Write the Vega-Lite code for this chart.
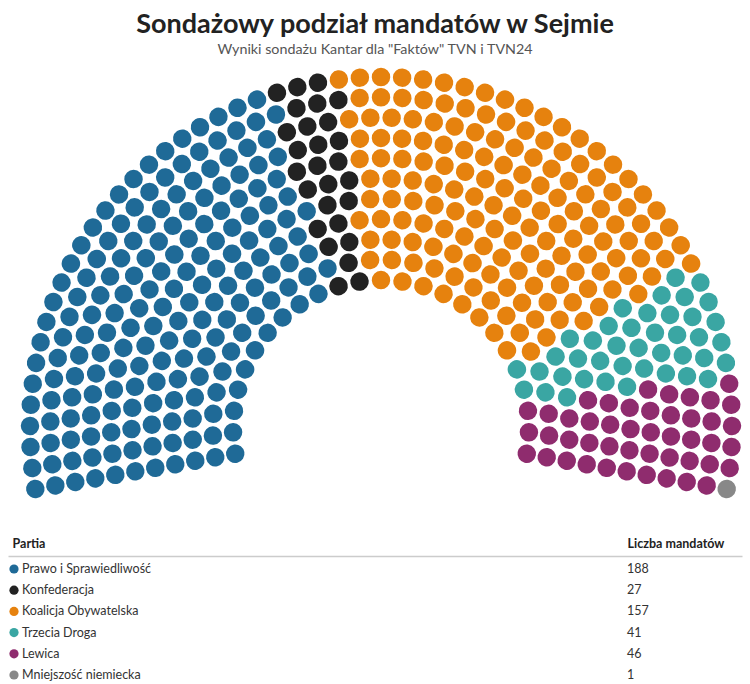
{
"$schema": "https://vega.github.io/schema/vega-lite/v6.json",
"padding": {"left": 0, "right": 0, "top": 10, "bottom": 0},
"background": "white",
"title": {"text": "Sondażowy podział mandatów w Sejmie", "subtitle": "Wyniki sondażu Kantar dla \"Faktów\" TVN i TVN24", "anchor": "middle", "font": "Lato", "fontSize": 27, "fontWeight": "bold", "color": "#222222", "subtitleFont": "Lato", "subtitleFontSize": 14.3, "subtitleColor": "#555555", "subtitlePadding": 4, "offset": 5},
"config": {"view": {"stroke": null}, "font": "Lato"},
"spacing": 34,
"center": true,
"datasets": {
"parties": [
{"p":"PiS","name":"Prawo i Sprawiedliwość","n":188},
{"p":"Konf","name":"Konfederacja","n":27},
{"p":"KO","name":"Koalicja Obywatelska","n":157},
{"p":"TD","name":"Trzecia Droga","n":41},
{"p":"Lewica","name":"Lewica","n":46},
{"p":"MN","name":"Mniejszość niemiecka","n":1}
],
"seats": [
{"p":"PiS","r":0,"i":0},{"p":"PiS","r":0,"i":1},{"p":"PiS","r":0,"i":2},{"p":"PiS","r":0,"i":3},{"p":"PiS","r":0,"i":4},{"p":"PiS","r":0,"i":5},{"p":"PiS","r":0,"i":6},{"p":"PiS","r":0,"i":7},{"p":"PiS","r":0,"i":8},{"p":"PiS","r":0,"i":9},
{"p":"Konf","r":0,"i":10},{"p":"Konf","r":0,"i":11},
{"p":"KO","r":0,"i":12},{"p":"KO","r":0,"i":13},{"p":"KO","r":0,"i":14},{"p":"KO","r":0,"i":15},{"p":"KO","r":0,"i":16},{"p":"KO","r":0,"i":17},{"p":"KO","r":0,"i":18},{"p":"KO","r":0,"i":19},
{"p":"TD","r":0,"i":20},{"p":"TD","r":0,"i":21},
{"p":"Lewica","r":0,"i":22},{"p":"Lewica","r":0,"i":23},{"p":"Lewica","r":0,"i":24},

{"p":"PiS","r":1,"i":0},{"p":"PiS","r":1,"i":1},{"p":"PiS","r":1,"i":2},{"p":"PiS","r":1,"i":3},{"p":"PiS","r":1,"i":4},{"p":"PiS","r":1,"i":5},{"p":"PiS","r":1,"i":6},{"p":"PiS","r":1,"i":7},{"p":"PiS","r":1,"i":8},{"p":"PiS","r":1,"i":9},{"p":"PiS","r":1,"i":10},{"p":"PiS","r":1,"i":11},
{"p":"Konf","r":1,"i":12},
{"p":"KO","r":1,"i":13},{"p":"KO","r":1,"i":14},{"p":"KO","r":1,"i":15},{"p":"KO","r":1,"i":16},{"p":"KO","r":1,"i":17},{"p":"KO","r":1,"i":18},{"p":"KO","r":1,"i":19},{"p":"KO","r":1,"i":20},{"p":"KO","r":1,"i":21},{"p":"KO","r":1,"i":22},
{"p":"TD","r":1,"i":23},{"p":"TD","r":1,"i":24},
{"p":"Lewica","r":1,"i":25},{"p":"Lewica","r":1,"i":26},{"p":"Lewica","r":1,"i":27},

{"p":"PiS","r":2,"i":0},{"p":"PiS","r":2,"i":1},{"p":"PiS","r":2,"i":2},{"p":"PiS","r":2,"i":3},{"p":"PiS","r":2,"i":4},{"p":"PiS","r":2,"i":5},{"p":"PiS","r":2,"i":6},{"p":"PiS","r":2,"i":7},{"p":"PiS","r":2,"i":8},{"p":"PiS","r":2,"i":9},{"p":"PiS","r":2,"i":10},{"p":"PiS","r":2,"i":11},{"p":"PiS","r":2,"i":12},
{"p":"Konf","r":2,"i":13},{"p":"Konf","r":2,"i":14},
{"p":"KO","r":2,"i":15},{"p":"KO","r":2,"i":16},{"p":"KO","r":2,"i":17},{"p":"KO","r":2,"i":18},{"p":"KO","r":2,"i":19},{"p":"KO","r":2,"i":20},{"p":"KO","r":2,"i":21},{"p":"KO","r":2,"i":22},{"p":"KO","r":2,"i":23},{"p":"KO","r":2,"i":24},{"p":"KO","r":2,"i":25},
{"p":"TD","r":2,"i":26},{"p":"TD","r":2,"i":27},{"p":"TD","r":2,"i":28},
{"p":"Lewica","r":2,"i":29},{"p":"Lewica","r":2,"i":30},{"p":"Lewica","r":2,"i":31},

{"p":"PiS","r":3,"i":0},{"p":"PiS","r":3,"i":1},{"p":"PiS","r":3,"i":2},{"p":"PiS","r":3,"i":3},{"p":"PiS","r":3,"i":4},{"p":"PiS","r":3,"i":5},{"p":"PiS","r":3,"i":6},{"p":"PiS","r":3,"i":7},{"p":"PiS","r":3,"i":8},{"p":"PiS","r":3,"i":9},{"p":"PiS","r":3,"i":10},{"p":"PiS","r":3,"i":11},{"p":"PiS","r":3,"i":12},{"p":"PiS","r":3,"i":13},
{"p":"Konf","r":3,"i":14},{"p":"Konf","r":3,"i":15},
{"p":"KO","r":3,"i":16},{"p":"KO","r":3,"i":17},{"p":"KO","r":3,"i":18},{"p":"KO","r":3,"i":19},{"p":"KO","r":3,"i":20},{"p":"KO","r":3,"i":21},{"p":"KO","r":3,"i":22},{"p":"KO","r":3,"i":23},{"p":"KO","r":3,"i":24},{"p":"KO","r":3,"i":25},{"p":"KO","r":3,"i":26},{"p":"KO","r":3,"i":27},
{"p":"TD","r":3,"i":28},{"p":"TD","r":3,"i":29},{"p":"TD","r":3,"i":30},
{"p":"Lewica","r":3,"i":31},{"p":"Lewica","r":3,"i":32},{"p":"Lewica","r":3,"i":33},{"p":"Lewica","r":3,"i":34},

{"p":"PiS","r":4,"i":0},{"p":"PiS","r":4,"i":1},{"p":"PiS","r":4,"i":2},{"p":"PiS","r":4,"i":3},{"p":"PiS","r":4,"i":4},{"p":"PiS","r":4,"i":5},{"p":"PiS","r":4,"i":6},{"p":"PiS","r":4,"i":7},{"p":"PiS","r":4,"i":8},{"p":"PiS","r":4,"i":9},{"p":"PiS","r":4,"i":10},{"p":"PiS","r":4,"i":11},{"p":"PiS","r":4,"i":12},{"p":"PiS","r":4,"i":13},{"p":"PiS","r":4,"i":14},{"p":"PiS","r":4,"i":15},
{"p":"Konf","r":4,"i":16},{"p":"Konf","r":4,"i":17},
{"p":"KO","r":4,"i":18},{"p":"KO","r":4,"i":19},{"p":"KO","r":4,"i":20},{"p":"KO","r":4,"i":21},{"p":"KO","r":4,"i":22},{"p":"KO","r":4,"i":23},{"p":"KO","r":4,"i":24},{"p":"KO","r":4,"i":25},{"p":"KO","r":4,"i":26},{"p":"KO","r":4,"i":27},{"p":"KO","r":4,"i":28},{"p":"KO","r":4,"i":29},{"p":"KO","r":4,"i":30},
{"p":"TD","r":4,"i":31},{"p":"TD","r":4,"i":32},{"p":"TD","r":4,"i":33},
{"p":"Lewica","r":4,"i":34},{"p":"Lewica","r":4,"i":35},{"p":"Lewica","r":4,"i":36},{"p":"Lewica","r":4,"i":37},

{"p":"PiS","r":5,"i":0},{"p":"PiS","r":5,"i":1},{"p":"PiS","r":5,"i":2},{"p":"PiS","r":5,"i":3},{"p":"PiS","r":5,"i":4},{"p":"PiS","r":5,"i":5},{"p":"PiS","r":5,"i":6},{"p":"PiS","r":5,"i":7},{"p":"PiS","r":5,"i":8},{"p":"PiS","r":5,"i":9},{"p":"PiS","r":5,"i":10},{"p":"PiS","r":5,"i":11},{"p":"PiS","r":5,"i":12},{"p":"PiS","r":5,"i":13},{"p":"PiS","r":5,"i":14},{"p":"PiS","r":5,"i":15},{"p":"PiS","r":5,"i":16},
{"p":"Konf","r":5,"i":17},{"p":"Konf","r":5,"i":18},{"p":"Konf","r":5,"i":19},
{"p":"KO","r":5,"i":20},{"p":"KO","r":5,"i":21},{"p":"KO","r":5,"i":22},{"p":"KO","r":5,"i":23},{"p":"KO","r":5,"i":24},{"p":"KO","r":5,"i":25},{"p":"KO","r":5,"i":26},{"p":"KO","r":5,"i":27},{"p":"KO","r":5,"i":28},{"p":"KO","r":5,"i":29},{"p":"KO","r":5,"i":30},{"p":"KO","r":5,"i":31},{"p":"KO","r":5,"i":32},{"p":"KO","r":5,"i":33},
{"p":"TD","r":5,"i":34},{"p":"TD","r":5,"i":35},{"p":"TD","r":5,"i":36},{"p":"TD","r":5,"i":37},
{"p":"Lewica","r":5,"i":38},{"p":"Lewica","r":5,"i":39},{"p":"Lewica","r":5,"i":40},{"p":"Lewica","r":5,"i":41},

{"p":"PiS","r":6,"i":0},{"p":"PiS","r":6,"i":1},{"p":"PiS","r":6,"i":2},{"p":"PiS","r":6,"i":3},{"p":"PiS","r":6,"i":4},{"p":"PiS","r":6,"i":5},{"p":"PiS","r":6,"i":6},{"p":"PiS","r":6,"i":7},{"p":"PiS","r":6,"i":8},{"p":"PiS","r":6,"i":9},{"p":"PiS","r":6,"i":10},{"p":"PiS","r":6,"i":11},{"p":"PiS","r":6,"i":12},{"p":"PiS","r":6,"i":13},{"p":"PiS","r":6,"i":14},{"p":"PiS","r":6,"i":15},{"p":"PiS","r":6,"i":16},{"p":"PiS","r":6,"i":17},
{"p":"Konf","r":6,"i":18},{"p":"Konf","r":6,"i":19},{"p":"Konf","r":6,"i":20},
{"p":"KO","r":6,"i":21},{"p":"KO","r":6,"i":22},{"p":"KO","r":6,"i":23},{"p":"KO","r":6,"i":24},{"p":"KO","r":6,"i":25},{"p":"KO","r":6,"i":26},{"p":"KO","r":6,"i":27},{"p":"KO","r":6,"i":28},{"p":"KO","r":6,"i":29},{"p":"KO","r":6,"i":30},{"p":"KO","r":6,"i":31},{"p":"KO","r":6,"i":32},{"p":"KO","r":6,"i":33},{"p":"KO","r":6,"i":34},{"p":"KO","r":6,"i":35},
{"p":"TD","r":6,"i":36},{"p":"TD","r":6,"i":37},{"p":"TD","r":6,"i":38},{"p":"TD","r":6,"i":39},
{"p":"Lewica","r":6,"i":40},{"p":"Lewica","r":6,"i":41},{"p":"Lewica","r":6,"i":42},{"p":"Lewica","r":6,"i":43},{"p":"Lewica","r":6,"i":44},

{"p":"PiS","r":7,"i":0},{"p":"PiS","r":7,"i":1},{"p":"PiS","r":7,"i":2},{"p":"PiS","r":7,"i":3},{"p":"PiS","r":7,"i":4},{"p":"PiS","r":7,"i":5},{"p":"PiS","r":7,"i":6},{"p":"PiS","r":7,"i":7},{"p":"PiS","r":7,"i":8},{"p":"PiS","r":7,"i":9},{"p":"PiS","r":7,"i":10},{"p":"PiS","r":7,"i":11},{"p":"PiS","r":7,"i":12},{"p":"PiS","r":7,"i":13},{"p":"PiS","r":7,"i":14},{"p":"PiS","r":7,"i":15},{"p":"PiS","r":7,"i":16},{"p":"PiS","r":7,"i":17},{"p":"PiS","r":7,"i":18},{"p":"PiS","r":7,"i":19},
{"p":"Konf","r":7,"i":20},{"p":"Konf","r":7,"i":21},{"p":"Konf","r":7,"i":22},
{"p":"KO","r":7,"i":23},{"p":"KO","r":7,"i":24},{"p":"KO","r":7,"i":25},{"p":"KO","r":7,"i":26},{"p":"KO","r":7,"i":27},{"p":"KO","r":7,"i":28},{"p":"KO","r":7,"i":29},{"p":"KO","r":7,"i":30},{"p":"KO","r":7,"i":31},{"p":"KO","r":7,"i":32},{"p":"KO","r":7,"i":33},{"p":"KO","r":7,"i":34},{"p":"KO","r":7,"i":35},{"p":"KO","r":7,"i":36},{"p":"KO","r":7,"i":37},{"p":"KO","r":7,"i":38},{"p":"KO","r":7,"i":39},
{"p":"TD","r":7,"i":40},{"p":"TD","r":7,"i":41},{"p":"TD","r":7,"i":42},{"p":"TD","r":7,"i":43},
{"p":"Lewica","r":7,"i":44},{"p":"Lewica","r":7,"i":45},{"p":"Lewica","r":7,"i":46},{"p":"Lewica","r":7,"i":47},{"p":"Lewica","r":7,"i":48},

{"p":"PiS","r":8,"i":0},{"p":"PiS","r":8,"i":1},{"p":"PiS","r":8,"i":2},{"p":"PiS","r":8,"i":3},{"p":"PiS","r":8,"i":4},{"p":"PiS","r":8,"i":5},{"p":"PiS","r":8,"i":6},{"p":"PiS","r":8,"i":7},{"p":"PiS","r":8,"i":8},{"p":"PiS","r":8,"i":9},{"p":"PiS","r":8,"i":10},{"p":"PiS","r":8,"i":11},{"p":"PiS","r":8,"i":12},{"p":"PiS","r":8,"i":13},{"p":"PiS","r":8,"i":14},{"p":"PiS","r":8,"i":15},{"p":"PiS","r":8,"i":16},{"p":"PiS","r":8,"i":17},{"p":"PiS","r":8,"i":18},{"p":"PiS","r":8,"i":19},{"p":"PiS","r":8,"i":20},
{"p":"Konf","r":8,"i":21},{"p":"Konf","r":8,"i":22},{"p":"Konf","r":8,"i":23},
{"p":"KO","r":8,"i":24},{"p":"KO","r":8,"i":25},{"p":"KO","r":8,"i":26},{"p":"KO","r":8,"i":27},{"p":"KO","r":8,"i":28},{"p":"KO","r":8,"i":29},{"p":"KO","r":8,"i":30},{"p":"KO","r":8,"i":31},{"p":"KO","r":8,"i":32},{"p":"KO","r":8,"i":33},{"p":"KO","r":8,"i":34},{"p":"KO","r":8,"i":35},{"p":"KO","r":8,"i":36},{"p":"KO","r":8,"i":37},{"p":"KO","r":8,"i":38},{"p":"KO","r":8,"i":39},{"p":"KO","r":8,"i":40},{"p":"KO","r":8,"i":41},
{"p":"TD","r":8,"i":42},{"p":"TD","r":8,"i":43},{"p":"TD","r":8,"i":44},{"p":"TD","r":8,"i":45},{"p":"TD","r":8,"i":46},
{"p":"Lewica","r":8,"i":47},{"p":"Lewica","r":8,"i":48},{"p":"Lewica","r":8,"i":49},{"p":"Lewica","r":8,"i":50},{"p":"Lewica","r":8,"i":51},

{"p":"PiS","r":9,"i":0},{"p":"PiS","r":9,"i":1},{"p":"PiS","r":9,"i":2},{"p":"PiS","r":9,"i":3},{"p":"PiS","r":9,"i":4},{"p":"PiS","r":9,"i":5},{"p":"PiS","r":9,"i":6},{"p":"PiS","r":9,"i":7},{"p":"PiS","r":9,"i":8},{"p":"PiS","r":9,"i":9},{"p":"PiS","r":9,"i":10},{"p":"PiS","r":9,"i":11},{"p":"PiS","r":9,"i":12},{"p":"PiS","r":9,"i":13},{"p":"PiS","r":9,"i":14},{"p":"PiS","r":9,"i":15},{"p":"PiS","r":9,"i":16},{"p":"PiS","r":9,"i":17},{"p":"PiS","r":9,"i":18},{"p":"PiS","r":9,"i":19},{"p":"PiS","r":9,"i":20},{"p":"PiS","r":9,"i":21},{"p":"PiS","r":9,"i":22},
{"p":"Konf","r":9,"i":23},{"p":"Konf","r":9,"i":24},{"p":"Konf","r":9,"i":25},
{"p":"KO","r":9,"i":26},{"p":"KO","r":9,"i":27},{"p":"KO","r":9,"i":28},{"p":"KO","r":9,"i":29},{"p":"KO","r":9,"i":30},{"p":"KO","r":9,"i":31},{"p":"KO","r":9,"i":32},{"p":"KO","r":9,"i":33},{"p":"KO","r":9,"i":34},{"p":"KO","r":9,"i":35},{"p":"KO","r":9,"i":36},{"p":"KO","r":9,"i":37},{"p":"KO","r":9,"i":38},{"p":"KO","r":9,"i":39},{"p":"KO","r":9,"i":40},{"p":"KO","r":9,"i":41},{"p":"KO","r":9,"i":42},{"p":"KO","r":9,"i":43},
{"p":"TD","r":9,"i":44},{"p":"TD","r":9,"i":45},{"p":"TD","r":9,"i":46},{"p":"TD","r":9,"i":47},{"p":"TD","r":9,"i":48},{"p":"TD","r":9,"i":49},
{"p":"Lewica","r":9,"i":50},{"p":"Lewica","r":9,"i":51},{"p":"Lewica","r":9,"i":52},{"p":"Lewica","r":9,"i":53},{"p":"Lewica","r":9,"i":54},

{"p":"PiS","r":10,"i":0},{"p":"PiS","r":10,"i":1},{"p":"PiS","r":10,"i":2},{"p":"PiS","r":10,"i":3},{"p":"PiS","r":10,"i":4},{"p":"PiS","r":10,"i":5},{"p":"PiS","r":10,"i":6},{"p":"PiS","r":10,"i":7},{"p":"PiS","r":10,"i":8},{"p":"PiS","r":10,"i":9},{"p":"PiS","r":10,"i":10},{"p":"PiS","r":10,"i":11},{"p":"PiS","r":10,"i":12},{"p":"PiS","r":10,"i":13},{"p":"PiS","r":10,"i":14},{"p":"PiS","r":10,"i":15},{"p":"PiS","r":10,"i":16},{"p":"PiS","r":10,"i":17},{"p":"PiS","r":10,"i":18},{"p":"PiS","r":10,"i":19},{"p":"PiS","r":10,"i":20},{"p":"PiS","r":10,"i":21},{"p":"PiS","r":10,"i":22},{"p":"PiS","r":10,"i":23},
{"p":"Konf","r":10,"i":24},{"p":"Konf","r":10,"i":25},{"p":"Konf","r":10,"i":26},
{"p":"KO","r":10,"i":27},{"p":"KO","r":10,"i":28},{"p":"KO","r":10,"i":29},{"p":"KO","r":10,"i":30},{"p":"KO","r":10,"i":31},{"p":"KO","r":10,"i":32},{"p":"KO","r":10,"i":33},{"p":"KO","r":10,"i":34},{"p":"KO","r":10,"i":35},{"p":"KO","r":10,"i":36},{"p":"KO","r":10,"i":37},{"p":"KO","r":10,"i":38},{"p":"KO","r":10,"i":39},{"p":"KO","r":10,"i":40},{"p":"KO","r":10,"i":41},{"p":"KO","r":10,"i":42},{"p":"KO","r":10,"i":43},{"p":"KO","r":10,"i":44},{"p":"KO","r":10,"i":45},{"p":"KO","r":10,"i":46},{"p":"KO","r":10,"i":47},
{"p":"TD","r":10,"i":48},{"p":"TD","r":10,"i":49},{"p":"TD","r":10,"i":50},{"p":"TD","r":10,"i":51},{"p":"TD","r":10,"i":52},
{"p":"Lewica","r":10,"i":53},{"p":"Lewica","r":10,"i":54},{"p":"Lewica","r":10,"i":55},{"p":"Lewica","r":10,"i":56},{"p":"Lewica","r":10,"i":57},
{"p":"MN","r":10,"i":58}
]
},
"vconcat": [
{
"width": 750,
"height": 440,
"data": {"name": "seats"},
"encoding": {
"x": {"datum": 0, "type": "quantitative", "scale": {"domain": [-381, 369], "nice": false, "zero": false}, "axis": null},
"y": {"datum": 0, "type": "quantitative", "scale": {"domain": [-75, 365], "nice": false, "zero": false}, "axis": null},
"radius": {"field": "r", "type": "quantitative", "scale": {"type": "linear", "domain": [0, 10], "range": [148, 351], "zero": false, "nice": false}},
"radius2": {"field": "r"},
"color": {"field": "p", "type": "nominal", "scale": {"domain": ["PiS", "Konf", "KO", "TD", "Lewica", "MN"], "range": ["#1f6a97", "#222222", "#e6820e", "#3aa6a3", "#8f2c6e", "#888888"]}, "legend": null}
},
"resolve": {"scale": {"theta": "independent"}},
"layer": [
{"transform": [{"filter": {"field": "r", "equal": 0}}], "mark": {"type": "arc", "radiusOffset": -9.25, "radius2Offset": 9.25, "thetaOffset": -0.0625, "theta2Offset": 0.0625, "cornerRadius": 9.25}, "encoding": {"theta": {"field": "i", "type": "quantitative", "stack": null, "scale": {"domain": [0, 24], "range": [-1.74533, 1.74533], "zero": false, "nice": false}}, "theta2": {"field": "i"}}},
{"transform": [{"filter": {"field": "r", "equal": 1}}], "mark": {"type": "arc", "radiusOffset": -9.25, "radius2Offset": 9.25, "thetaOffset": -0.05496, "theta2Offset": 0.05496, "cornerRadius": 9.25}, "encoding": {"theta": {"field": "i", "type": "quantitative", "stack": null, "scale": {"domain": [0, 27], "range": [-1.74533, 1.74533], "zero": false, "nice": false}}, "theta2": {"field": "i"}}},
{"transform": [{"filter": {"field": "r", "equal": 2}}], "mark": {"type": "arc", "radiusOffset": -9.25, "radius2Offset": 9.25, "thetaOffset": -0.04905, "theta2Offset": 0.04905, "cornerRadius": 9.25}, "encoding": {"theta": {"field": "i", "type": "quantitative", "stack": null, "scale": {"domain": [0, 31], "range": [-1.74533, 1.74533], "zero": false, "nice": false}}, "theta2": {"field": "i"}}},
{"transform": [{"filter": {"field": "r", "equal": 3}}], "mark": {"type": "arc", "radiusOffset": -9.25, "radius2Offset": 9.25, "thetaOffset": -0.04428, "theta2Offset": 0.04428, "cornerRadius": 9.25}, "encoding": {"theta": {"field": "i", "type": "quantitative", "stack": null, "scale": {"domain": [0, 34], "range": [-1.74533, 1.74533], "zero": false, "nice": false}}, "theta2": {"field": "i"}}},
{"transform": [{"filter": {"field": "r", "equal": 4}}], "mark": {"type": "arc", "radiusOffset": -9.25, "radius2Offset": 9.25, "thetaOffset": -0.04036, "theta2Offset": 0.04036, "cornerRadius": 9.25}, "encoding": {"theta": {"field": "i", "type": "quantitative", "stack": null, "scale": {"domain": [0, 37], "range": [-1.74533, 1.74533], "zero": false, "nice": false}}, "theta2": {"field": "i"}}},
{"transform": [{"filter": {"field": "r", "equal": 5}}], "mark": {"type": "arc", "radiusOffset": -9.25, "radius2Offset": 9.25, "thetaOffset": -0.03707, "theta2Offset": 0.03707, "cornerRadius": 9.25}, "encoding": {"theta": {"field": "i", "type": "quantitative", "stack": null, "scale": {"domain": [0, 41], "range": [-1.74533, 1.74533], "zero": false, "nice": false}}, "theta2": {"field": "i"}}},
{"transform": [{"filter": {"field": "r", "equal": 6}}], "mark": {"type": "arc", "radiusOffset": -9.25, "radius2Offset": 9.25, "thetaOffset": -0.03428, "theta2Offset": 0.03428, "cornerRadius": 9.25}, "encoding": {"theta": {"field": "i", "type": "quantitative", "stack": null, "scale": {"domain": [0, 44], "range": [-1.74533, 1.74533], "zero": false, "nice": false}}, "theta2": {"field": "i"}}},
{"transform": [{"filter": {"field": "r", "equal": 7}}], "mark": {"type": "arc", "radiusOffset": -9.25, "radius2Offset": 9.25, "thetaOffset": -0.03189, "theta2Offset": 0.03189, "cornerRadius": 9.25}, "encoding": {"theta": {"field": "i", "type": "quantitative", "stack": null, "scale": {"domain": [0, 48], "range": [-1.74533, 1.74533], "zero": false, "nice": false}}, "theta2": {"field": "i"}}},
{"transform": [{"filter": {"field": "r", "equal": 8}}], "mark": {"type": "arc", "radiusOffset": -9.25, "radius2Offset": 9.25, "thetaOffset": -0.0298, "theta2Offset": 0.0298, "cornerRadius": 9.25}, "encoding": {"theta": {"field": "i", "type": "quantitative", "stack": null, "scale": {"domain": [0, 51], "range": [-1.74533, 1.74533], "zero": false, "nice": false}}, "theta2": {"field": "i"}}},
{"transform": [{"filter": {"field": "r", "equal": 9}}], "mark": {"type": "arc", "radiusOffset": -9.25, "radius2Offset": 9.25, "thetaOffset": -0.02797, "theta2Offset": 0.02797, "cornerRadius": 9.25}, "encoding": {"theta": {"field": "i", "type": "quantitative", "stack": null, "scale": {"domain": [0, 54], "range": [-1.74533, 1.74533], "zero": false, "nice": false}}, "theta2": {"field": "i"}}},
{"transform": [{"filter": {"field": "r", "equal": 10}}], "mark": {"type": "arc", "radiusOffset": -9.25, "radius2Offset": 9.25, "thetaOffset": -0.02635, "theta2Offset": 0.02635, "cornerRadius": 9.25}, "encoding": {"theta": {"field": "i", "type": "quantitative", "stack": null, "scale": {"domain": [0, 58], "range": [-1.74533, 1.74533], "zero": false, "nice": false}}, "theta2": {"field": "i"}}}
]
},
{
"width": 734,
"height": 124,
"data": {"name": "parties"},
"layer": [
{"mark": {"type": "point", "filled": true, "size": 85, "opacity": 1},
 "encoding": {
  "x": {"datum": "Partia", "type": "nominal", "scale": {"type": "point", "domain": ["Partia", "Liczba mandatów"], "padding": 0.0967, "align": 0.0504}, "axis": {"orient": "top", "title": null, "ticks": false, "grid": false, "domainColor": "#cccccc", "domainWidth": 1.5, "labelAngle": 0, "labelFont": "Lato", "labelFontSize": 12.5, "labelFontWeight": "bold", "labelColor": "#222222", "labelAlign": "left", "labelOffset": -2, "labelPadding": 6}},
  "y": {"field": "p", "type": "nominal", "scale": {"type": "point", "domain": ["PiS", "Konf", "KO", "TD", "Lewica", "MN"], "padding": 0.4245, "align": 0.722}, "axis": null},
  "color": {"field": "p", "type": "nominal", "scale": {"domain": ["PiS", "Konf", "KO", "TD", "Lewica", "MN"], "range": ["#1f6a97", "#222222", "#e6820e", "#3aa6a3", "#8f2c6e", "#888888"]}, "legend": null}
 }},
{"mark": {"type": "text", "align": "left", "baseline": "middle", "dx": 8, "font": "Lato", "fontSize": 12.5, "color": "#333333"},
 "encoding": {
  "x": {"datum": "Partia", "type": "nominal"},
  "y": {"field": "p", "type": "nominal"},
  "text": {"field": "name"}
 }},
{"mark": {"type": "text", "align": "left", "baseline": "middle", "dx": -2, "font": "Lato", "fontSize": 12.5, "color": "#333333"},
 "encoding": {
  "x": {"datum": "Liczba mandatów", "type": "nominal"},
  "y": {"field": "p", "type": "nominal"},
  "text": {"field": "n"}
 }}
]
}
]
}
